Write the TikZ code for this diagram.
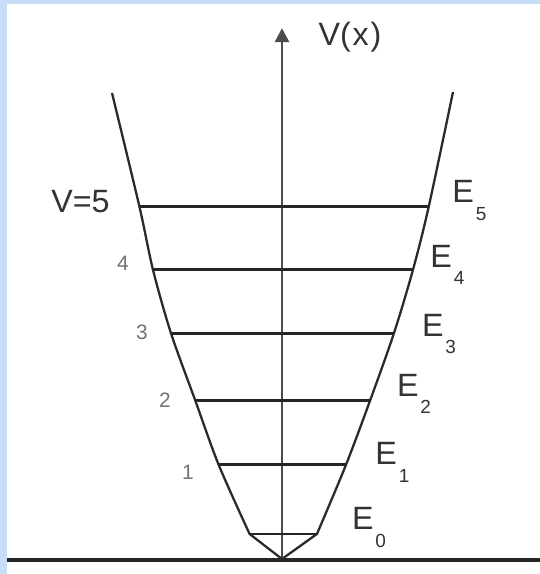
\documentclass[tikz,border=0pt]{standalone}
\usepackage{fontspec}
\setmainfont{Liberation Sans}
\usetikzlibrary{arrows.meta}
\definecolor{framebg}{HTML}{C9DCF7}
\definecolor{inkgray}{HTML}{2A2A2A}
\newcommand{\Elev}[1]{E\kern1pt\raisebox{-1ex}{\fontsize{10}{10}\selectfont #1}}
\tikzset{
  P/.style={draw=inkgray, line width=1.2pt, line join=round},
  L/.style={draw=black!85, line width=1.5pt},
  a/.style={-{Triangle[length=2.6mm, width=2.6mm]}, draw=black!70, line width=1.5pt},
  X/.style={draw=black!85, line width=1.8pt},
  E/.style={anchor=base west, inner sep=0pt, text=black!80,
    font=\fontsize{17}{20}\selectfont},
  Q/.style={inner sep=0pt, text=black!55, font=\fontsize{11}{13}\selectfont},
  T/.style={anchor=base west, inner sep=0pt, text=black!80,
    font=\fontsize{17}{20}\selectfont},
}

\begin{document}
\begin{tikzpicture}

% ═══════════════════════════════════════════════════════════════
% FRAME
% ═══════════════════════════════════════════════════════════════
\useasboundingbox (-5.222,-0.278) rectangle (4.778,10.352);
\fill[framebg] (-5.222,-0.278) rectangle (4.778,10.352);
\fill[white] (-5.093,-0.278) rectangle (4.778,10.278);

% ═══════════════════════════════════════════════════════════════
% AXES
% ═══════════════════════════════════════════════════════════════
\coordinate (vtx) at (0,0);
\coordinate (base) at (0,-0.02);
\coordinate (vtop) at (0,9.83);
\coordinate (xl) at (-5.093,-0.02);
\coordinate (xr) at (4.778,-0.02);

\draw[a] (base) -- (vtop);
\draw[X] (xl) -- (xr);
\node[T] at (0.67,9.5) (vlab) {V(\kern1pt x\kern1pt)};

% ═══════════════════════════════════════════════════════════════
% POTENTIAL WELL — level ends sit on the curve
% ═══════════════════════════════════════════════════════════════
\coordinate (ltop) at (-3.148,8.63);
\coordinate (l5) at (-2.639,6.522);
\coordinate (l4) at (-2.389,5.356);
\coordinate (l3) at (-2.056,4.183);
\coordinate (l2) at (-1.604,2.930);
\coordinate (l1) at (-1.172,1.743);
\coordinate (l0) at (-0.600,0.463);
\coordinate (r0) at (0.648,0.463);
\coordinate (r1) at (1.185,1.743);
\coordinate (r2) at (1.630,2.930);
\coordinate (r3) at (2.074,4.183);
\coordinate (r4) at (2.426,5.356);
\coordinate (r5) at (2.717,6.522);
\coordinate (rtop) at (3.167,8.648);

\draw[P] plot[smooth, tension=0.5] coordinates
  {(ltop) (l5) (l4) (l3) (l2) (l1) (l0)}
  -- (vtx) --
  plot[smooth, tension=0.5] coordinates
  {(r0) (r1) (r2) (r3) (r4) (r5) (rtop)};

% Energy levels
\draw[L] (l5) -- (r5);
\draw[L] (l4) -- (r4);
\draw[L] (l3) -- (r3);
\draw[L] (l2) -- (r2);
\draw[L] (l1) -- (r1);
\draw[L] (l0) -- (r0);

% ═══════════════════════════════════════════════════════════════
% LABELS
% ═══════════════════════════════════════════════════════════════
\node[E] at (3.148,6.593) (e5) {\Elev{5}};
\node[E] at (2.741,5.407) (e4) {\Elev{4}};
\node[E] at (2.587,4.117) (e3) {\Elev{3}};
\node[E] at (2.124,3.006) (e2) {\Elev{2}};
\node[E] at (1.722,1.741) (e1) {\Elev{1}};
\node[E] at (1.291,0.537) (e0) {\Elev{0}};

\node[E, anchor=base east] at (-3.185,6.41) (q5) {V=5};
\node[Q] at (-2.944,5.481) (q4) {4};
\node[Q] at (-2.593,4.204) (q3) {3};
\node[Q] at (-2.167,2.944) (q2) {2};
\node[Q] at (-1.741,1.611) (q1) {1};

\end{tikzpicture}
\end{document}
